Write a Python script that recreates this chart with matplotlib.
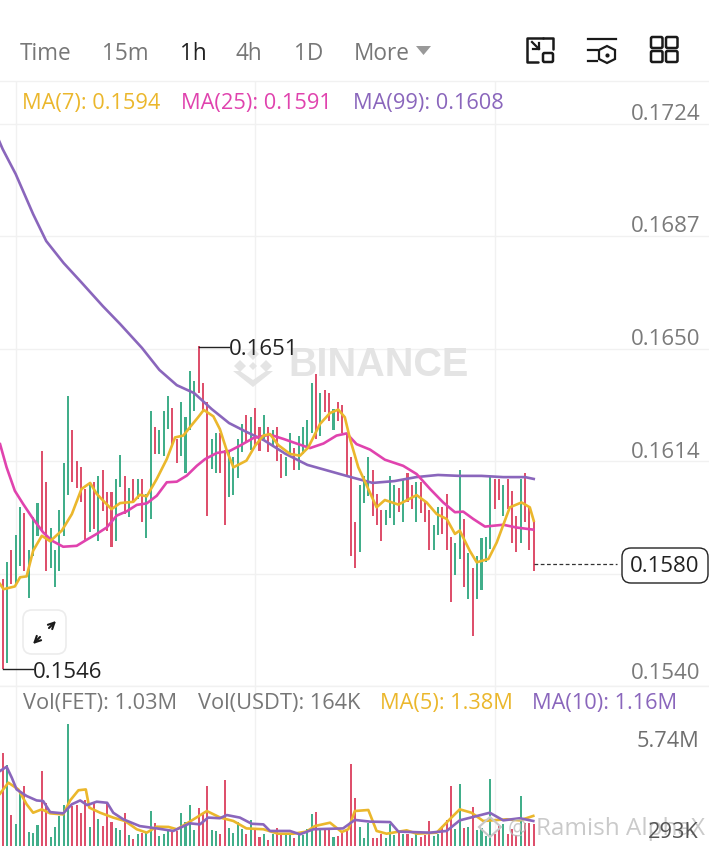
from matplotlib import pyplot as plt
from matplotlib.patches import FancyBboxPatch, Polygon

plt.rcParams["font.family"] = ["Open Sans", "DejaVu Sans"]

# candles, prices x 1e-5
highs = [15750, 15805, 15846, 15895, 15987, 15966, 15846, 15955, 15998, 16168,
         16067, 15916, 15846, 15976, 16129, 16350, 16239, 16138, 16118, 16045,
         16067, 16067, 16086, 16108, 16036, 16036, 16078, 16157, 16086, 16047,
         16078, 16078, 16078, 16029, 16299, 16249, 16239, 16299, 16350, 16309,
         16209, 16329, 16280, 16430, 16400, 16512, 16391, 16329, 16209, 16228,
         16228, 16173, 16170, 16149, 16209, 16258, 16287, 16280, 16309, 16247,
         16287, 16247, 16239, 16249, 16160, 16149, 16228, 16178, 16217, 16249,
         16271, 16391, 16421, 16359, 16369, 16359, 16307, 16329, 16320, 16230,
         16149, 15936, 16058, 16086, 16149, 16108, 16029, 15977, 15977, 16089,
         16058, 16048, 16078, 16096, 16058, 16067, 16067, 16001, 15977, 15927,
         15987, 15987, 16029, 15887, 15868, 16107, 15947, 15835, 15786, 15827,
         15885, 15887, 16086, 16078, 16078, 16058, 16078, 16037, 15958, 16078,
         16096, 15985, 15941]
lows = [15456, 15475, 15734, 15734, 15794, 15778, 15687, 15827, 15892, 15903,
        15778, 15785, 15725, 15775, 15892, 16026, 16067, 16048, 16001, 15878,
        15905, 15914, 15876, 15974, 15909, 15856, 15876, 16050, 15963, 15955,
        16001, 16012, 15938, 15885, 15947, 16160, 16160, 16154, 16241, 16187,
        16129, 16152, 16099, 16239, 16301, 16361, 16296, 15958, 16110, 16099,
        16099, 15928, 16018, 16026, 16080, 16165, 16198, 16173, 16189, 16170,
        16209, 16165, 16181, 16138, 16080, 16086, 16154, 16108, 16108, 16160,
        16176, 16230, 16209, 16220, 16298, 16269, 16239, 16269, 16230, 16089,
        15827, 15785, 15838, 15998, 16023, 15958, 15927, 15876, 15927, 15949,
        15927, 15969, 15938, 16001, 15979, 15938, 15966, 15938, 15846, 15846,
        15895, 15898, 15846, 15676, 15764, 15816, 15725, 15685, 15565, 15685,
        15715, 15805, 15848, 15979, 16010, 15958, 15979, 15867, 15838, 15867,
        15936, 15846, 15778]
# 1 = up (green), 0 = down (red)
up = [0, 1, 0, 1, 1, 0, 1, 1, 1, 0, 0, 1, 1, 1, 1, 1, 0, 0, 0, 0,
      1, 0, 1, 0, 0, 0, 1, 1, 0, 1, 0, 1, 0, 1, 1, 0, 1, 1, 1, 0,
      0, 1, 1, 1, 1, 0, 0, 0, 1, 1, 0, 0, 1, 1, 1, 1, 0, 1, 0, 0,
      1, 0, 1, 0, 0, 1, 1, 0, 1, 1, 1, 1, 0, 1, 0, 0, 1, 0, 0, 0,
      0, 0, 1, 1, 1, 0, 0, 0, 1, 1, 1, 0, 1, 0, 0, 1, 0, 0, 0, 1,
      1, 0, 0, 0, 1, 1, 0, 1, 0, 1, 1, 1, 1, 0, 0, 1, 0, 0, 0, 1,
      0, 0, 0]
volumes = [4.37, 3.82, 1.45, 1.02, 2.52, 2.83, 0.68, 0.60, 0.98, 3.54,
           2.04, 0.42, 0.90, 1.42, 1.92, 5.74, 1.89, 1.93, 1.57, 2.15,
           0.90, 2.04, 1.26, 0.94, 2.04, 1.15, 0.83, 0.76, 1.57, 0.52,
           0.31, 0.55, 0.60, 0.68, 1.65, 1.07, 0.47, 0.55, 0.79, 0.68,
           0.71, 1.54, 1.15, 1.92, 0.76, 1.78, 1.49, 2.83, 0.76, 0.71,
           0.55, 3.11, 0.83, 0.63, 1.15, 0.79, 0.55, 1.21, 0.87, 0.42,
           0.55, 0.28, 0.55, 0.87, 0.55, 0.58, 0.58, 0.36, 0.52, 0.52,
           0.79, 1.49, 1.60, 0.79, 0.79, 0.83, 0.42, 0.47, 0.60, 0.71,
           3.85, 2.25, 0.90, 0.36, 1.07, 0.36, 0.36, 0.55, 0.36, 1.02,
           0.52, 0.71, 0.55, 0.58, 0.39, 0.63, 0.44, 0.52, 1.18, 0.47,
           0.58, 0.94, 1.23, 2.83, 0.82, 2.91, 0.87, 0.91, 1.84, 0.76,
           0.87, 0.47, 3.15, 0.55, 0.94, 1.02, 0.55, 0.79, 0.52, 2.36,
           1.10, 1.10, 1.05]

ma7_x = [-0.6, 0.2, 2.8, 4, 5.5, 7, 9, 10.9, 13.6, 15.9, 18.1, 20.1, 21.6, 23.5,
         25, 27, 30, 31.5, 33.1, 35.4, 37.7, 39.6, 41.5, 43.4, 44.9, 46.2, 48.4,
         49.9, 51.5, 53, 56, 58, 59.9, 61.4, 63.3, 66, 68.3, 70.2, 72.9, 75.2,
         77.1, 78.6, 79.8, 81.7, 84, 85.9, 87.8, 90.9, 95.1, 97.4, 99.7, 102,
         103.9, 105, 107.3, 108.9, 111.6, 113.5, 116.5, 119.2, 121.1, 122]
ma7_y = [15734, 15717, 15726, 15756, 15759, 15843, 15892, 15874, 15909, 15963,
         16045, 16065, 16029, 16001, 15979, 15999, 16003, 16026, 16021, 16078,
         16143, 16214, 16220, 16254, 16280, 16304, 16283, 16241, 16170, 16116,
         16138, 16187, 16220, 16225, 16189, 16160, 16154, 16181, 16258, 16294,
         16305, 16280, 16209, 16116, 16045, 15985, 16009, 15994, 16025, 16001,
         15963, 15947, 15898, 15909, 15843, 15805, 15816, 15870, 15985, 16001,
         15985, 15941]
ma25_x = [-0.6, 0.9, 2.8, 4.7, 7, 9.3, 11.3, 13.9, 17, 19.3, 21.6, 23.9, 26.2,
          28.5, 30.8, 33.1, 35.4, 37.7, 40, 42.3, 44.6, 46.5, 49.2, 52.2, 54.5,
          57.6, 61.4, 64.5, 67.5, 70.6, 73.7, 76.7, 79, 81.3, 84.4, 87.8, 92,
          95.1, 98.2, 101.2, 103.9, 105.8, 108.1, 110.8, 115, 118, 121.9]
ma25_y = [16192, 16116, 16039, 15996, 15947, 15903, 15876, 15856, 15859, 15879,
          15898, 15919, 15958, 15972, 15993, 15998, 16023, 16067, 16069, 16089,
          16121, 16143, 16163, 16170, 16187, 16212, 16223, 16209, 16194, 16179,
          16194, 16220, 16227, 16192, 16174, 16141, 16121, 16094, 16045, 16001,
          15969, 15971, 15947, 15922, 15928, 15919, 15912]
ma99_x = [-1, 0, 3, 7, 10, 14, 18, 23, 27, 32, 36, 40, 44, 48, 52, 56, 60, 65,
          70, 75, 80, 85, 90, 95, 100, 105, 110, 115, 120, 122]
ma99_y = [17191, 17158, 17076, 16945, 16857, 16785, 16723, 16644, 16585, 16507,
          16435, 16385, 16359, 16307, 16261, 16232, 16205, 16160, 16124, 16104,
          16084, 16065, 16071, 16084, 16091, 16088, 16088, 16084, 16084, 16078]

vma5_x = [-0.6, 1.3, 3.6, 5.5, 7, 9, 10.9, 13.9, 15.5, 17.4, 19.1, 19.9, 22.4,
          25.4, 28.1, 30.8, 33.1, 35.4, 38.1, 40, 43, 46.9, 50, 53, 56, 59.9,
          63.3, 66.8, 69.8, 71.7, 75.2, 77.9, 79.4, 80.9, 84, 85.9, 88.2, 92.8,
          95.1, 99.7, 102.7, 105, 107.7, 110.4, 115.8, 118.8, 121.9]
vma5_y = [2.47, 2.99, 2.67, 1.97, 1.57, 1.73, 1.54, 1.49, 2.15, 2.63, 2.67, 1.81,
          1.57, 1.34, 1.18, 0.79, 0.63, 0.91, 0.90, 0.79, 1.15, 1.65, 1.34, 1.18,
          0.83, 0.79, 0.58, 0.58, 0.68, 0.94, 1.10, 0.66, 0.79, 1.65, 1.70, 0.71,
          0.58, 0.74, 0.58, 0.63, 1.26, 1.73, 1.57, 1.18, 1.26, 1.21, 1.42]
vma10_x = [-0.6, 0.9, 2.1, 3.2, 5.5, 7.8, 9.3, 10.9, 13.9, 15.9, 17.8, 19.4, 21.6,
           24, 25.4, 27.7, 31.5, 35.4, 39.2, 43, 45.3, 47.2, 49.9, 51.5, 54.5,
           57.2, 59.9, 61.4, 63.3, 66, 68.3, 71.4, 78.2, 80.9, 84.4, 89, 90.9,
           98.2, 102, 105, 109.6, 111.9, 115, 118.8, 121.9]
vma10_y = [3.54, 3.74, 3.22, 2.67, 2.36, 2.15, 2.12, 1.60, 1.54, 1.97, 2.15, 1.93,
           2.09, 2.04, 1.57, 1.26, 0.94, 0.83, 0.71, 1.07, 1.02, 1.34, 1.31, 1.46,
           1.34, 1.05, 1.02, 0.71, 0.71, 0.71, 0.55, 0.79, 0.83, 1.23, 1.15, 1.13,
           0.68, 0.63, 0.71, 1.21, 1.45, 1.57, 1.21, 1.31, 1.18]

grid_prices = [0.1724, 0.16873, 0.16503, 0.16137, 0.15767, 0.1540]
grid_labels = ["0.1724", "0.1687", "0.1650", "0.1614", "", "0.1540"]
grid_times = [3, 58, 113.2]

GREEN = "#41AE8A"
RED = "#DE506C"
YELLOW = "#EBB72C"
PINK = "#E043AE"
PURPLE = "#8A66BC"
GREY = "#777777"
GRIDC = "#F1F1F1"
W, H = 709, 854

PX_X = 4.353
XLIM = (-2.67 / PX_X, (W - 2.67) / PX_X)
LINE_W = 1.9
BAR_W = 0.48


def axes_px(top, bottom):
    return fig.add_axes([0, 1 - bottom / H, 1, (bottom - top) / H])


fig = plt.figure(figsize=(W / 100, H / 100), dpi=100)

# overlay in pixel coordinates for the app's buttons and texts
ui = fig.add_axes([0, 0, 1, 1], zorder=5)
ui.set_xlim(0, W)
ui.set_ylim(H, 0)
ui.axis("off")

ax = axes_px(82, 687)
vol = axes_px(687, 847)
for a in (ax, vol):
    a.set_xlim(*XLIM)
    a.set_xticks(grid_times)
    a.set_xticklabels([])
    a.tick_params(length=0, labelleft=False, labelbottom=False)
    a.grid(axis="x", color=GRIDC, lw=1)
    a.set_axisbelow(True)
    for s in a.spines.values():
        s.set_visible(False)

ax.set_ylim(0.1540, 0.17381)
ax.set_yticks(grid_prices)
ax.grid(axis="y", color=GRIDC, lw=1)
ui.plot([0, W], [82, 82], color=GRIDC, lw=1)
ui.plot([0, W], [687, 687], color=GRIDC, lw=1)

xs = list(range(len(highs)))
colors = [GREEN if u else RED for u in up]
high_p = [v * 1e-5 for v in highs]
low_p = [v * 1e-5 for v in lows]
ax.bar(xs, [h - l for h, l in zip(high_p, low_p)], bottom=low_p, width=BAR_W,
       color=colors, linewidth=0)

ax.plot(ma99_x, [v * 1e-5 for v in ma99_y], color=PURPLE, lw=LINE_W)
ax.plot(ma25_x, [v * 1e-5 for v in ma25_y], color=PINK, lw=LINE_W)
ax.plot(ma7_x, [v * 1e-5 for v in ma7_y], color=YELLOW, lw=LINE_W)

# last price dashes
ax.plot([122, 141.2], [0.1580, 0.1580], color="#333333", lw=0.9, ls=(0, (3, 2)))

# high / low markers
ax.plot([45, 52], [0.1651, 0.1651], color="#222222", lw=1)
ax.plot([0, 7], [0.15456, 0.15456], color="#222222", lw=1)

vol.set_ylim(0, 7.55)
vol.set_yticks([])
vol.bar(xs, volumes, width=BAR_W, color=colors, linewidth=0)
vol.plot(vma5_x, vma5_y, color=YELLOW, lw=LINE_W)
vol.plot(vma10_x, vma10_y, color=PURPLE, lw=LINE_W)


def label(x, y, s, color=GREY, size=15.7, ha="left", **kw):
    ui.text(x, y + 2, s, color=color, fontsize=size, ha=ha, va="center", **kw)


# header
for x, s, c in [(20, "Time", GREY), (102, "15m", GREY), (180, "1h", "#222222"),
                (236, "4h", GREY), (294, "1D", GREY), (354, "More", GREY)]:
    label(x, 52, s, c, 16.3)
ui.add_patch(Polygon([(416, 47), (431, 47), (423.5, 56)], color="#999999", lw=0))

# icons
DARK = "#1A1A1A"
ui.plot([543, 527, 527, 538], [38.5, 38.5, 62.5, 62.5], color=DARK, lw=1.8, solid_capstyle="round")
ui.plot([543, 553, 553], [38.5, 38.5, 50], color=DARK, lw=1.8, solid_capstyle="round")
ui.add_patch(FancyBboxPatch((543, 54), 10, 9, boxstyle="round,pad=0,rounding_size=1.5",
                            fc="none", ec=DARK, lw=1.8))
ui.plot([532, 539], [43, 50], color=DARK, lw=1.6)
ui.plot([533, 539, 539], [50, 50, 44], color=DARK, lw=1.6)
ui.plot([588, 616], [40, 40], color=DARK, lw=1.6)
ui.plot([588, 597], [51, 51], color=DARK, lw=1.6)
ui.plot([588, 597], [62, 62], color=DARK, lw=1.6)
ui.add_patch(Polygon([(607, 47), (615, 51), (615, 60), (607, 64), (599, 60), (599, 51)],
                     fc="none", ec=DARK, lw=1.6))
ui.scatter([607], [55.5], s=9, color=DARK, linewidths=0)
for x0 in (651, 666):
    for y0 in (38, 52):
        ui.add_patch(FancyBboxPatch((x0, y0), 11.5, 11, boxstyle="round,pad=0,rounding_size=1.5",
                                    fc="none", ec=DARK, lw=1.8))

# MA legend
label(22, 101, "MA(7): 0.1594", YELLOW)
label(181, 101, "MA(25): 0.1591", PINK)
label(353, 101, "MA(99): 0.1608", PURPLE)

# price labels
for y, s in zip([113, 225, 338, 451, 672], [t for t in grid_labels if t]):
    label(700, y, s, "#7A7A7A", 16, ha="right")

# watermark
label(288, 363, "BINANCE", "#E4E4E4", 28.5, weight="bold", family="Liberation Sans", zorder=0)
for cx, cy, r in [(253, 355, 6), (240, 367, 6), (266, 367, 6), (253, 367, 4)]:
    ui.add_patch(Polygon([(cx, cy - r), (cx + r, cy), (cx, cy + r), (cx - r, cy)], color="#E4E4E4", lw=0))
ui.add_patch(Polygon([(233, 372), (240, 372), (253, 381), (266, 372), (273, 372), (253, 388)],
                     color="#E4E4E4", lw=0))

label(229, 348, "0.1651", "#222222", 16)
label(33, 671, "0.1546", "#222222", 16)

# last price box
ui.add_patch(FancyBboxPatch((622, 549), 86, 35, boxstyle="round,pad=0,rounding_size=9",
                            fc="white", ec="#222222", lw=1))
label(665, 565, "0.1580", "#222222", 16, ha="center")

# expand button
ui.add_patch(FancyBboxPatch((23, 611), 43, 44, boxstyle="round,pad=0,rounding_size=9",
                            fc="white", ec="#ECECEC", lw=1.2))
ui.annotate("", xy=(31, 647), xytext=(42, 636), arrowprops=dict(arrowstyle="->", color=DARK, lw=1.5, mutation_scale=11))
ui.annotate("", xy=(58, 620), xytext=(47, 631), arrowprops=dict(arrowstyle="->", color=DARK, lw=1.5, mutation_scale=11))

# volume legend
label(23, 702, "Vol(FET): 1.03M")
label(198, 702, "Vol(USDT): 164K")
label(380, 702, "MA(5): 1.38M", YELLOW)
label(532, 702, "MA(10): 1.16M", PURPLE)
label(699, 740, "5.74M", "#6E6E6E", 15.7, ha="right")

# credit watermark
label(536, 827, "Ramish AlphaX", "#BDBDBD", 17.5, alpha=0.8)
label(508, 827, "@", "#BDBDBD", 15.5, alpha=0.8)
ui.add_patch(Polygon([(490, 818), (501, 828), (490, 838), (479, 828)], fc="none", ec="#C8C8C8", lw=1.5))
label(699, 831, "293K", "#555555", 15.7, ha="right")

fig.savefig("out.png", dpi=100)
